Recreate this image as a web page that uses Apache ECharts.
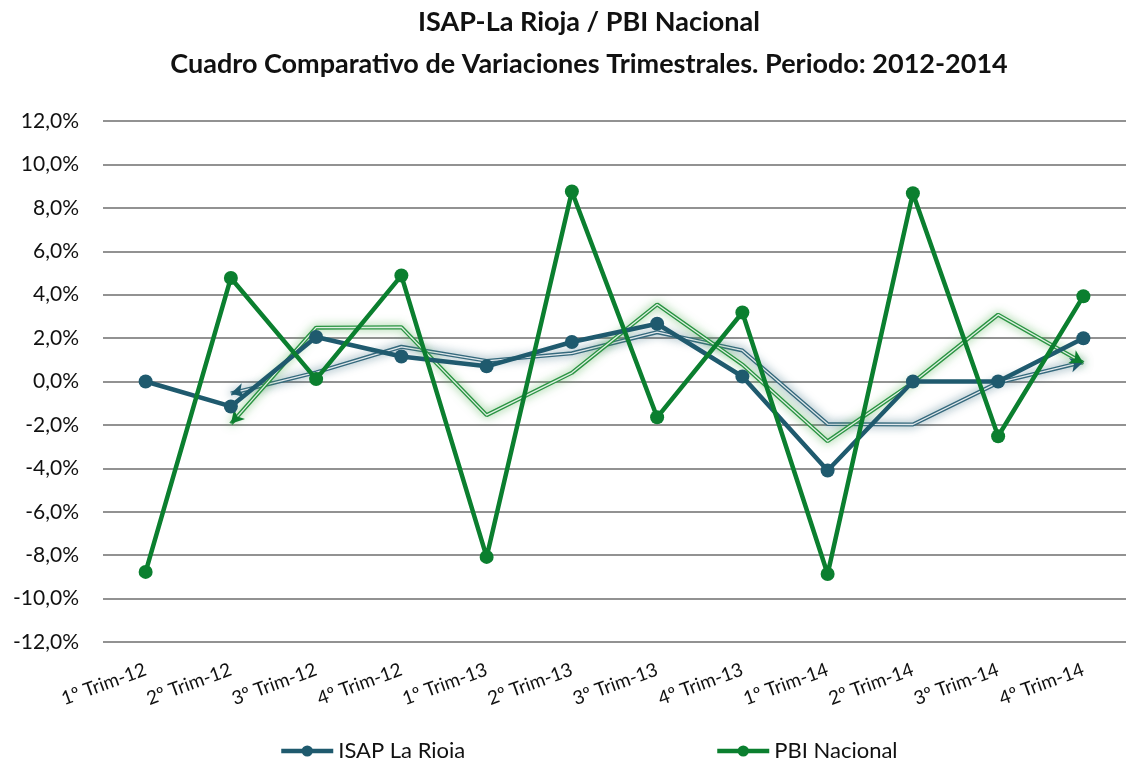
<!DOCTYPE html>
<html>
<head>
<meta charset="utf-8">
<title>ISAP-La Rioja / PBI Nacional</title>
<style>
  html, body { margin: 0; padding: 0; background: #fff; }
  #main { width: 1126px; height: 758px; }
</style>
</head>
<body>
<div id="main"></div>
<script src="https://cdn.jsdelivr.net/npm/echarts@6/dist/echarts.min.js"></script>
<script>
var trimestres = ['1º Trim-12', '2º Trim-12', '3º Trim-12', '4º Trim-12',
                  '1º Trim-13', '2º Trim-13', '3º Trim-13', '4º Trim-13',
                  '1º Trim-14', '2º Trim-14', '3º Trim-14', '4º Trim-14'];
// variaciones trimestrales (%)
var isapRioja   = [0.0, -1.15, 2.05, 1.15, 0.7, 1.82, 2.66, 0.23, -4.1, 0.0, 0.0, 1.99];
var pbiNacional = [-8.77, 4.77, 0.11, 4.88, -8.08, 8.75, -1.65, 3.18, -8.87, 8.67, -2.52, 3.93];
// lineas de tendencia (media movil)
var tendIsap = [null, -0.55, 0.42, 1.6, 0.95, 1.3, 2.27, 1.43, -1.96, -1.98, -0.05, 0.9];
var tendPbi  = [null, -1.95, 2.48, 2.5, -1.55, 0.4, 3.55, 0.78, -2.75, -0.05, 3.08, 0.85];
var ejeY = { min: -12, max: 12, step: 2 };

var azul = '#1f5a6e';
var verde = '#0b7f2f';
var fuente = 'Lato, "Open Sans", sans-serif';

var myChart = echarts.init(document.getElementById('main'));

function tendencia(nombre, datos, color, sombra) {
    return [{
        name: nombre,
        type: 'line',
        data: datos.slice(),
        symbol: 'none',
        silent: true,
        z: 1,
        lineStyle: { width: 4, color: color, shadowBlur: 10, shadowColor: sombra }
    }, {
        name: nombre + '-in',
        type: 'line',
        data: datos.slice(),
        symbol: 'none',
        silent: true,
        z: 1,
        lineStyle: { width: 1.3, color: '#ffffff', opacity: 0.85 }
    }];
}

var series = [].concat(
    tendencia('Tend ISAP', tendIsap, '#35697d', 'rgba(31,90,110,0.65)'),
    tendencia('Tend PBI', tendPbi, '#2a9442', 'rgba(70,170,70,0.7)'),
    [{
        name: 'ISAP La Rioja',
        type: 'line',
        data: isapRioja,
        z: 3,
        symbol: 'circle',
        symbolSize: 14,
        itemStyle: { color: azul },
        lineStyle: { width: 4.5, color: azul }
    }, {
        name: 'PBI Nacional',
        type: 'line',
        data: pbiNacional,
        z: 4,
        symbol: 'circle',
        symbolSize: 14,
        itemStyle: { color: verde },
        lineStyle: { width: 4.5, color: verde }
    }]
);

function leyenda(nombre, x) {
    return {
        data: [nombre],
        left: x,
        top: 735,
        itemWidth: 52,
        itemHeight: 14,
        itemGap: 0,
        lineStyle: { width: 4.5 },
        textStyle: { fontSize: 22, color: '#111', fontFamily: fuente }
    };
}

var option = {
    animation: false,
    backgroundColor: '#fff',
    textStyle: { fontFamily: fuente },
    title: {
        text: 'ISAP-La Rioja / PBI Nacional\nCuadro Comparativo de Variaciones Trimestrales. Periodo: 2012-2014',
        left: 584,
        top: -4,
        textAlign: 'center',
        textStyle: { fontSize: 27, fontWeight: 'bold', color: '#111', lineHeight: 42, fontFamily: fuente }
    },
    legend: [leyenda('ISAP La Rioja', 274), leyenda('PBI Nacional', 710)],
    grid: { left: 103, right: -4, top: 121, bottom: 116 },
    xAxis: {
        type: 'category',
        data: trimestres,
        axisLine: { show: false },
        axisTick: { show: false },
        axisLabel: { rotate: 20, fontSize: 19, color: '#111', margin: 27, interval: 0 }
    },
    yAxis: {
        type: 'value',
        min: ejeY.min,
        max: ejeY.max,
        interval: ejeY.step,
        axisLine: { show: false },
        axisTick: { show: false },
        splitLine: { lineStyle: { color: '#929292', width: 2 } },
        axisLabel: {
            fontSize: 21,
            color: '#111',
            margin: 24,
            formatter: function (v) { return v.toFixed(1).replace('.', ',') + '%'; }
        }
    },
    series: series
};
myChart.setOption(option);

// puntas de flecha en los extremos de las lineas de tendencia
function angulo(a, b) {
    var p = myChart.convertToPixel({ gridIndex: 0 }, a);
    var q = myChart.convertToPixel({ gridIndex: 0 }, b);
    return Math.atan2(-(q[1] - p[1]), q[0] - p[0]) * 180 / Math.PI - 90;
}
function conFlechas(datos, color) {
    var ini = 1, fin = datos.length - 1;
    return datos.map(function (v, i) {
        if (i === ini) {
            return { value: v, symbol: 'arrow', symbolSize: [11, 13], symbolRotate: angulo([i + 1, datos[i + 1]], [i, v]), itemStyle: { color: color } };
        }
        if (i === fin) {
            return { value: v, symbol: 'arrow', symbolSize: [11, 13], symbolRotate: angulo([i - 1, datos[i - 1]], [i, v]), itemStyle: { color: color } };
        }
        return v;
    });
}
myChart.setOption({
    series: [
        { name: 'Tend ISAP', data: conFlechas(tendIsap, azul), showAllSymbol: true },
        {},
        { name: 'Tend PBI', data: conFlechas(tendPbi, verde), showAllSymbol: true },
        {}
    ]
});
</script>
</body>
</html>
